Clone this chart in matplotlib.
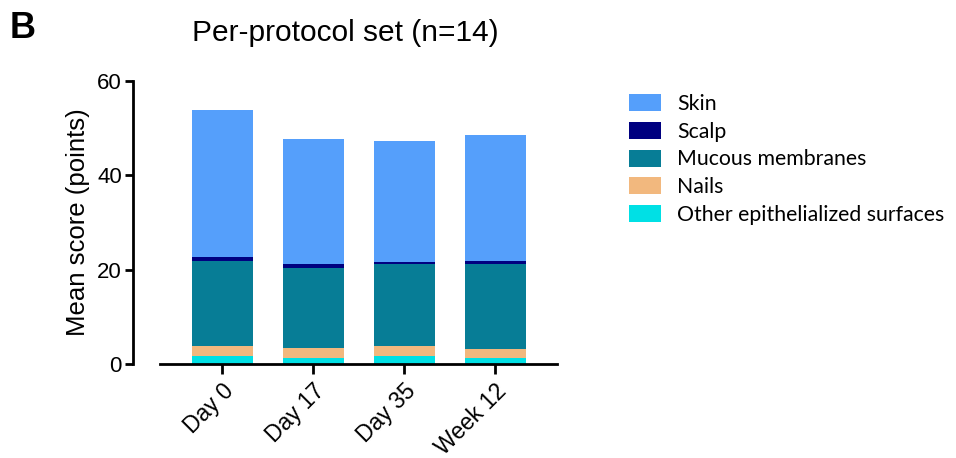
import matplotlib
matplotlib.use("Agg")
import matplotlib.pyplot as plt
from matplotlib.patches import Patch
import numpy as np

categories = ["Day 0", "Day 17", "Day 35", "Week 12"]
series_names = ["Skin", "Scalp", "Mucous membranes", "Nails", "Other epithelialized surfaces"]
other = [1.7, 1.3, 1.7, 1.3]
nails = [2.1, 2.1, 2.1, 1.9]
mucous = [18.1, 17.0, 17.3, 18.1]
scalp = [0.85, 0.9, 0.45, 0.6]
skin = [31.0, 26.4, 25.7, 26.6]

colors = {
    "Skin": "#559FFB",
    "Scalp": "#000080",
    "Mucous membranes": "#077D96",
    "Nails": "#F2B87E",
    "Other epithelialized surfaces": "#00E0E5",
}

plt.rcParams["font.family"] = ["Liberation Sans", "DejaVu Sans"]

fig = plt.figure(figsize=(9.56, 4.58), dpi=100)
ax = fig.add_axes([133 / 956, (458 - 364) / 458, (557 - 133) / 956, (364 - 81) / 458])

x = np.arange(len(categories))
stack = [("Other epithelialized surfaces", other), ("Nails", nails),
         ("Mucous membranes", mucous), ("Scalp", scalp), ("Skin", skin)]
bottom = np.zeros(len(categories))
for name, vals in stack:
    ax.bar(x, vals, width=0.67, bottom=bottom, color=colors[name], linewidth=0)
    bottom += np.array(vals)

ax.set_xlim(-0.98, 3.68)
ax.set_ylim(0, 60)
ax.set_yticks([0, 20, 40, 60])
ax.set_xticks(x)
ax.set_xticklabels(categories, rotation=45, ha="right", rotation_mode="anchor", fontsize=16.5)
ax.tick_params(axis="y", labelsize=16, width=2, length=6, pad=2)
ax.tick_params(axis="x", width=2, length=7, pad=4)
for s in ["top", "right"]:
    ax.spines[s].set_visible(False)
ax.spines["left"].set_linewidth(2)
ax.spines["bottom"].set_linewidth(2)
ax.spines["bottom"].set_bounds(-0.68, 3.68)
ax.set_ylabel("Mean score (points)", fontsize=18.5, labelpad=5)

fig.text(345 / 956, 1 - 33 / 458, "Per-protocol set (n=14)", fontsize=21.5,
         ha="center", va="center")
fig.text(10 / 956, 1 - 29 / 458, "B", fontsize=26, fontweight="bold",
         ha="left", va="center")

handles = [Patch(facecolor=colors[n], edgecolor="none") for n in series_names]
fig.legend(handles, series_names, loc="upper left",
           bbox_to_anchor=(610 / 956, 1 - 75 / 458), frameon=False,
           prop={"family": ["Lato", "DejaVu Sans"], "size": 15.3},
           handlelength=1.5, handleheight=0.85, handletextpad=0.75,
           labelspacing=0.36)

fig.savefig("out.png", dpi=100)
